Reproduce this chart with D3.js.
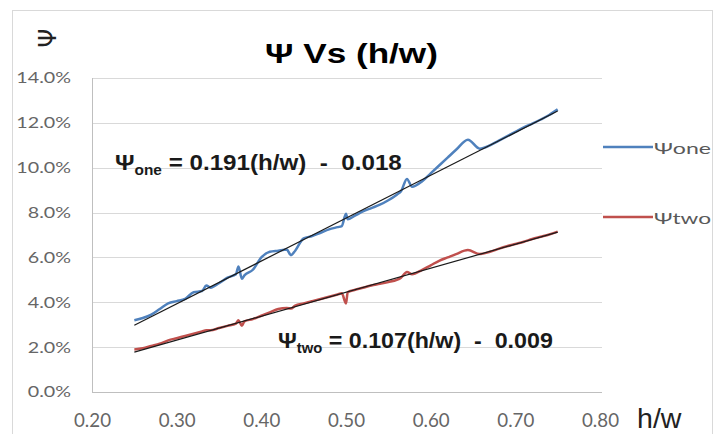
<!DOCTYPE html>
<html>
<head>
<meta charset="utf-8">
<script src="https://cdn.jsdelivr.net/npm/d3@7"></script>
<style>
body { margin: 0; background: #fff; }
svg { display: block; }
</style>
</head>
<body>
<svg id="chart" width="716" height="434"></svg>
<script>
// values (h/w on x, psi as a fraction on y)
const hw = [0.25, 0.26, 0.27, 0.28, 0.29, 0.30, 0.31, 0.32, 0.33, 0.335, 0.34, 0.35, 0.36, 0.37, 0.373, 0.377,
  0.38, 0.39, 0.40, 0.41, 0.42, 0.43, 0.435, 0.44, 0.45, 0.46, 0.47, 0.48, 0.49, 0.495, 0.50, 0.502,
  0.51, 0.52, 0.53, 0.54, 0.55, 0.56, 0.565, 0.572, 0.578, 0.59, 0.60, 0.61, 0.62, 0.63, 0.644, 0.658,
  0.67, 0.68, 0.69, 0.70, 0.71, 0.72, 0.73, 0.74, 0.75];
const psiOne = [0.032, 0.033, 0.0345, 0.037, 0.0395, 0.0405, 0.0415, 0.0445, 0.045, 0.0475, 0.0465, 0.0485, 0.051, 0.0525, 0.056, 0.0505,
  0.052, 0.0545, 0.060, 0.0625, 0.063, 0.0635, 0.061, 0.063, 0.0685, 0.0695, 0.071, 0.0725, 0.0735, 0.074, 0.0795, 0.077,
  0.0785, 0.0805, 0.082, 0.0835, 0.0855, 0.088, 0.0895, 0.095, 0.0915, 0.094, 0.0975, 0.101, 0.1045, 0.108, 0.1125, 0.1085,
  0.110, 0.112, 0.114, 0.116, 0.118, 0.1197, 0.1215, 0.1235, 0.126];
const psiTwo = [0.019, 0.0195, 0.0205, 0.0215, 0.023, 0.024, 0.025, 0.026, 0.027, 0.0275, 0.0275, 0.0285, 0.0295, 0.0305, 0.032, 0.0295,
  0.0315, 0.0325, 0.034, 0.0355, 0.037, 0.0375, 0.0372, 0.0385, 0.0395, 0.0405, 0.0415, 0.0425, 0.0435, 0.044, 0.0395, 0.0445,
  0.0455, 0.0465, 0.0475, 0.0482, 0.049, 0.050, 0.051, 0.0535, 0.0525, 0.0545, 0.0565, 0.0585, 0.060, 0.0615, 0.0633, 0.0615,
  0.0625, 0.0638, 0.065, 0.066, 0.067, 0.0682, 0.0692, 0.0702, 0.0715];

const seriesNames = ["one", "two"];
const seriesColors = ["#4f81bd", "#c0504d"];
const trendSlope = [0.191, 0.107];
const trendIntercept = [-0.018, -0.009];
const trendSpan = [0.25, 0.75];

const xTicks = [0.2, 0.3, 0.4, 0.5, 0.6, 0.7, 0.8];
const yTicks = [0, 0.02, 0.04, 0.06, 0.08, 0.10, 0.12, 0.14];

const svg = d3.select("#chart");
const x = d3.scaleLinear().domain([0.2, 0.8]).range([92, 600]);
const y = d3.scaleLinear().domain([0, 0.14]).range([392, 78]);

// outer frame
svg.append("rect")
  .attr("x", 12.5).attr("y", 10.5)
  .attr("width", 700).attr("height", 440)
  .attr("fill", "none").attr("stroke", "#d9d9d9");

// gridlines
svg.append("g").selectAll("line")
  .data(yTicks.filter(d => d > 0))
  .join("line")
  .attr("x1", 92).attr("x2", 602)
  .attr("y1", d => Math.round(y(d)) + 0.5).attr("y2", d => Math.round(y(d)) + 0.5)
  .attr("stroke", "#d9d9d9");

// axis lines
svg.append("line").attr("x1", 92.5).attr("x2", 92.5).attr("y1", 78).attr("y2", 392.5).attr("stroke", "#bfbfbf");
svg.append("line").attr("x1", 92).attr("x2", 602).attr("y1", 392.5).attr("y2", 392.5).attr("stroke", "#bfbfbf");

const yAxis = svg.append("g")
  .attr("transform", "translate(92,0)")
  .call(d3.axisLeft(y).tickValues(yTicks).tickFormat(d3.format(".1%")).tickSize(0).tickPadding(21));
yAxis.select(".domain").remove();
yAxis.selectAll("text")
  .attr("font-family", "Lato, sans-serif").attr("font-size", 15.5).attr("fill", "#666")
  .each(function () {
    const w = this.getComputedTextLength();
    d3.select(this).attr("textLength", w * 1.27).attr("lengthAdjust", "spacingAndGlyphs");
  });

const xAxis = svg.append("g")
  .attr("transform", "translate(0,392)")
  .call(d3.axisBottom(x).tickValues(xTicks).tickFormat(d3.format(".2f")).tickSize(0).tickPadding(21));
xAxis.select(".domain").remove();
xAxis.selectAll("text")
  .attr("font-family", "Lato, sans-serif").attr("font-size", 20).attr("fill", "#666")
  .attr("textLength", 37).attr("lengthAdjust", "spacingAndGlyphs");

// series
const line = d3.line().x(d => x(d[0])).y(d => y(d[1])).curve(d3.curveMonotoneX);
[psiOne, psiTwo].forEach((vals, i) => {
  svg.append("path")
    .datum(d3.zip(hw, vals))
    .attr("d", line)
    .attr("fill", "none")
    .attr("stroke", seriesColors[i])
    .attr("stroke-width", 2.5)
    .attr("stroke-linejoin", "round");
});

// linear trend lines
const trendLine = d3.line().x(d => x(d[0])).y(d => y(d[1]));
trendSlope.forEach((m, i) => {
  svg.append("path")
    .datum(trendSpan.map(v => [v, m * v + trendIntercept[i]]))
    .attr("d", trendLine)
    .attr("stroke", "#1a1a1a")
    .attr("stroke-width", 1.2);
});

// fit a text group to a width by stretching it horizontally
function fitGroup(g, left, baseline, width) {
  const w = g.node().getBBox().width;
  g.attr("transform", `translate(${left},${baseline}) scale(${width / w},1)`);
}

// equation labels
const eqs = [
  { name: "one", rest: " = 0.191(h/w)\u00a0 - \u00a00.018", left: 115, base: 170, width: 287 },
  { name: "two", rest: " = 0.107(h/w)\u00a0 - \u00a00.009", left: 278, base: 348, width: 275 }
];
eqs.forEach(e => {
  const g = svg.append("g");
  const t = g.append("text")
    .attr("font-family", "'Liberation Sans', Arial, sans-serif")
    .attr("font-weight", "bold").attr("font-size", 22).attr("fill", "#1a1a1a");
  t.append("tspan").text("\u03a8");
  t.append("tspan").attr("font-size", 14).attr("dy", 5).text(e.name);
  t.append("tspan").attr("dy", -5).text(e.rest);
  fitGroup(g, e.left, e.base, e.width);
});

// title
const title = svg.append("g");
title.append("text")
  .attr("font-family", "'Liberation Sans', Arial, sans-serif")
  .attr("font-weight", "bold").attr("font-size", 28).attr("fill", "#000")
  .text("\u03a8 Vs (h/w)");
fitGroup(title, 265, 63, 173);

// rotated y axis title
svg.append("text")
  .attr("transform", "translate(48,38) rotate(-90)")
  .attr("text-anchor", "middle").attr("dominant-baseline", "central")
  .attr("font-family", "'DejaVu Sans', sans-serif").attr("font-size", 24).attr("fill", "#222")
  .text("\u03a8");

// x axis title
const xt = svg.append("g");
xt.append("text")
  .attr("font-family", "'Liberation Sans', Arial, sans-serif")
  .attr("font-size", 27).attr("fill", "#222")
  .text("h/w");
fitGroup(xt, 637, 428, 45);

// legend
const legendY = [147, 217];
seriesNames.forEach((n, i) => {
  svg.append("line")
    .attr("x1", 603).attr("x2", 653)
    .attr("y1", legendY[i]).attr("y2", legendY[i])
    .attr("stroke", seriesColors[i]).attr("stroke-width", 2.5);
  svg.append("text")
    .attr("x", 654).attr("y", legendY[i])
    .attr("dominant-baseline", "central")
    .attr("font-family", "Lato, sans-serif").attr("font-size", 16).attr("fill", "#595959")
    .attr("textLength", 57).attr("lengthAdjust", "spacingAndGlyphs")
    .text("\u03a8" + n);
});
</script>
</body>
</html>
